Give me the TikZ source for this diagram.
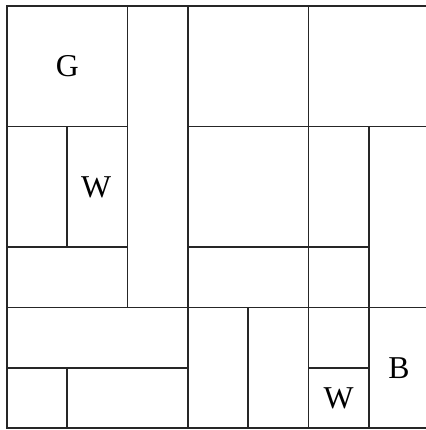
\documentclass[tikz,border=0pt]{standalone}
\usepackage{fontspec}
\setmainfont{Liberation Serif}
\begin{document}
\begin{tikzpicture}[x=1cm,y=1cm,
  cell/.style={draw=black!85, line width=0.8pt},
  lbl/.style={font=\fontsize{15}{18}\selectfont, inner sep=0pt}]
\useasboundingbox (-0.116,-0.033) rectangle (6.949,7.0995);
% outer frame
\draw[cell] (0,0) rectangle (7,7);
% horizontal lines (y measured upward: y = 7 - row)
\draw[cell] (0,5) -- (2,5);
\draw[cell] (3,5) -- (7,5);
\draw[cell] (0,3) -- (2,3);
\draw[cell] (3,3) -- (6,3);
\draw[cell] (0,2) -- (7,2);
\draw[cell] (0,1) -- (3,1);
\draw[cell] (5,1) -- (6,1);
% vertical lines
\draw[cell] (1,5) -- (1,3);
\draw[cell] (1,1) -- (1,0);
\draw[cell] (2,7) -- (2,2);
\draw[cell] (3,7) -- (3,0);
\draw[cell] (4,2) -- (4,0);
\draw[cell] (5,7) -- (5,0);
\draw[cell] (6,5) -- (6,0);
% labels
\node[lbl] (g) at (1,6) {G};
\node[lbl] (w1) at (1.48,4) {W};
\node[lbl] (w2) at (5.5,0.5) {W};
\node[lbl] (b) at (6.5,1) {B};
\end{tikzpicture}
\end{document}
